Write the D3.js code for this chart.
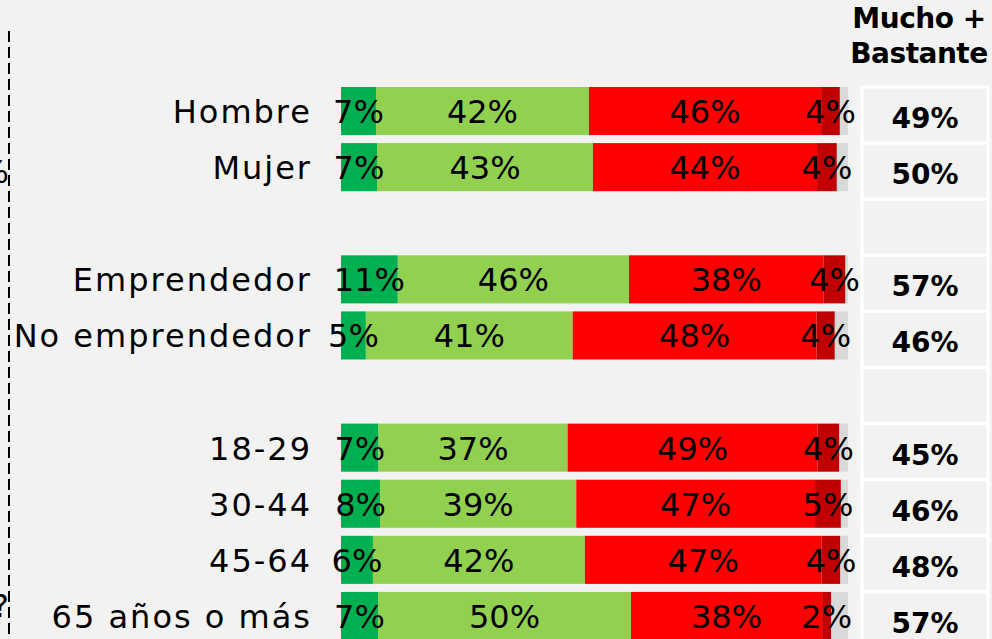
<!DOCTYPE html>
<html>
<head>
<meta charset="utf-8">
<script src="https://cdn.jsdelivr.net/npm/d3@7"></script>
<style>
  html, body { margin: 0; padding: 0; background: #f2f2f2; }
  svg { display: block; }
</style>
</head>
<body>
<div id="chart"></div>
<script>
// rows (blank slots separate the groups)
const categories = ["Hombre", "Mujer", "", "Emprendedor", "No emprendedor", " ", "18-29", "30-44", "45-64", "65 años o más"];
const mucho = [6.9, 7.1, null, 11.2, 4.9, null, 7.4, 7.7, 6.3, 7.3];
const bastante = [42.0, 42.6, null, 45.6, 40.8, null, 37.3, 38.7, 41.8, 49.9];
const poco = [45.8, 44.2, null, 38.4, 48.1, null, 49.3, 47.1, 46.7, 37.7];
const nada = [3.7, 3.9, null, 4.3, 3.6, null, 4.3, 5.1, 3.7, 1.8];
const total = ["49%", "50%", "", "57%", "46%", "", "45%", "46%", "48%", "57%"];
const header = ["Mucho +", "Bastante"];

const seriesKeys = ["mucho", "bastante", "poco", "nada", "nsnc"];
const colors = ["#00b050", "#92d050", "#ff0000", "#c00000", "#d9d9d9"];

const width = 992;
const height = 639;

const rows = categories.map((c, i) => {
  if (mucho[i] === null) return { cat: c, blank: true };
  const r = { cat: c, mucho: mucho[i], bastante: bastante[i], poco: poco[i], nada: nada[i] };
  r.nsnc = 100 - r.mucho - r.bastante - r.poco - r.nada;
  return r;
});

const svg = d3.select("div#chart").append("svg")
    .attr("width", width)
    .attr("height", height);

// scales
const xScale = d3.scaleLinear().domain([0, 100]).range([341, 848]);
const yScale = d3.scaleBand().domain(categories).range([87, 640]).paddingInner(0.143).paddingOuter(0);
const color = d3.scaleOrdinal().domain(seriesKeys).range(colors);

const stack = d3.stack().keys(seriesKeys);
const series = stack(rows.filter(d => !d.blank));

// dashed rule on the left
svg.append("line")
    .attr("x1", 9).attr("x2", 9)
    .attr("y1", 31).attr("y2", height)
    .attr("stroke", "#000")
    .attr("stroke-width", 2)
    .attr("stroke-dasharray", "11,5");

// cut-off fragments of the previous panel
svg.append("text").attr("x", 9).attr("y", 183).attr("text-anchor", "end")
    .style("font", "32px 'DejaVu Sans'").text("%");
svg.append("text").attr("x", 9).attr("y", 617).attr("text-anchor", "end")
    .style("font", "32px 'DejaVu Sans'").text("?");

// right-hand table cells
svg.append("g").selectAll("rect")
  .data(categories)
  .join("rect")
    .attr("x", 862)
    .attr("y", d => yScale(d))
    .attr("width", 126)
    .attr("height", yScale.step())
    .attr("fill", "#f2f2f2")
    .attr("stroke", "#fff")
    .attr("stroke-width", 3);

// bars
const layer = svg.append("g").selectAll("g")
  .data(series)
  .join("g")
    .attr("fill", d => color(d.key));

layer.selectAll("rect")
  .data(d => d)
  .join("rect")
    .attr("x", d => xScale(d[0]))
    .attr("y", d => yScale(d.data.cat))
    .attr("width", d => xScale(d[1]) - xScale(d[0]))
    .attr("height", yScale.bandwidth());

// segment labels
const labelFont = "32px 'DejaVu Sans'";
svg.append("g").selectAll("g")
  .data(series.filter(s => s.key !== "nsnc"))
  .join("g")
  .selectAll("text")
  .data(d => d.map(p => ({ p, key: d.key })))
  .join("text")
    .attr("x", d => (xScale(d.p[0]) + xScale(d.p[1])) / 2)
    .attr("y", d => yScale(d.p.data.cat) + yScale.bandwidth() / 2 + 12)
    .attr("text-anchor", "middle")
    .style("font", labelFont)
    .attr("fill", "#000")
    .text(d => Math.round(d.p.data[d.key]) + "%");

// row labels
svg.append("g").selectAll("text")
  .data(rows.filter(d => !d.blank))
  .join("text")
    .attr("x", 312)
    .attr("y", d => yScale(d.cat) + yScale.bandwidth() / 2 + 12)
    .attr("text-anchor", "end")
    .style("font", labelFont)
    .style("letter-spacing", "2px")
    .attr("fill", "#000")
    .text(d => d.cat);

// totals
svg.append("g").selectAll("text")
  .data(categories.map((c, i) => ({ c, t: total[i] })))
  .join("text")
    .attr("x", 925)
    .attr("y", d => yScale(d.c) + yScale.bandwidth() / 2 + 17)
    .attr("text-anchor", "middle")
    .style("font", "bold 28px 'DejaVu Sans'")
    .attr("fill", "#000")
    .text(d => d.t);

// header
svg.append("g").selectAll("text")
  .data(header)
  .join("text")
    .attr("x", 919)
    .attr("y", (d, i) => 28 + i * 35)
    .attr("text-anchor", "middle")
    .style("font", "bold 28px 'DejaVu Sans'")
    .style("letter-spacing", "-0.5px")
    .attr("fill", "#000")
    .text(d => d);
</script>
</body>
</html>
